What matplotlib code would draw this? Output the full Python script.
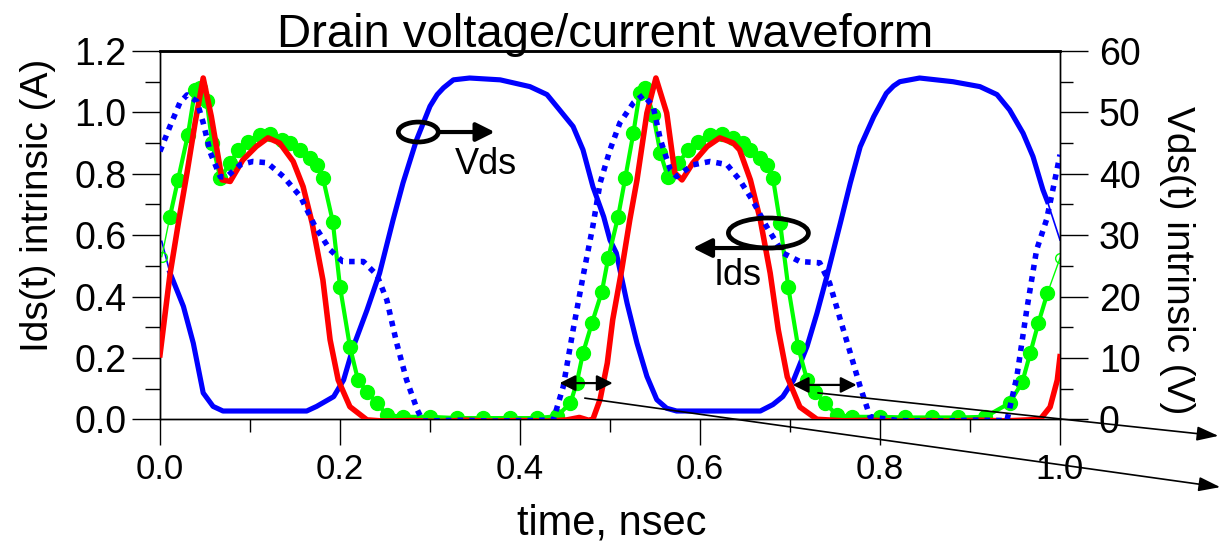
import matplotlib
matplotlib.use('Agg')
import matplotlib.pyplot as plt
from matplotlib.patches import Ellipse
from matplotlib.ticker import MultipleLocator

plt.rcParams['font.family'] = ['Liberation Sans', 'DejaVu Sans']

# ---------------- data ----------------
# Vds(t) intrinsic (V), right axis
vds_t = [0.011, 0.026, 0.037, 0.048, 0.059, 0.070, 0.163, 0.174, 0.193, 0.204, 0.215, 0.230,
         0.244, 0.259, 0.270, 0.285, 0.300, 0.308, 0.315, 0.326, 0.344, 0.378, 0.411, 0.430, 0.444,
         0.459, 0.470, 0.481, 0.493, 0.500, 0.507, 0.519, 0.530, 0.541, 0.552, 0.563, 0.574,
         0.667, 0.681, 0.692, 0.704, 0.719, 0.730, 0.741, 0.756, 0.767, 0.778, 0.793, 0.807,
         0.815, 0.822, 0.844, 0.881, 0.911, 0.930, 0.944, 0.959, 0.970, 0.981, 0.986]
vds_v = [23.9, 18.4, 12.4, 4.3, 2.1, 1.35, 1.35, 2.1, 3.7, 6.4, 11.9, 17.8,
         23.8, 32.5, 38.5, 45.5, 51.0, 52.9, 54.0, 55.3, 55.6, 55.3, 54.2, 52.9, 50.4,
         47.7, 43.9, 37.9, 33.0, 29.2, 27.1, 18.9, 12.4, 7.0, 3.2, 1.8, 1.35,
         1.35, 2.4, 3.7, 6.4, 11.9, 17.3, 23.3, 32.0, 38.5, 44.4, 49.3, 53.1,
         54.3, 55.0, 55.6, 55.0, 54.2, 52.9, 50.4, 46.6, 42.8, 37.4, 35.5]
vds_edge_l_t = [0.002, 0.011]
vds_edge_l_v = [29.0, 23.9]
vds_edge_r_t = [0.986, 1.0]
vds_edge_r_v = [35.5, 29.2]

# blue dotted current (A)
ib_t = [0.0, 0.011, 0.022, 0.030, 0.041, 0.048, 0.056, 0.067, 0.074, 0.089, 0.103, 0.119,
        0.137, 0.156, 0.172, 0.189, 0.203, 0.226, 0.241, 0.252, 0.263, 0.274, 0.286, 0.292,
        0.33, 0.37, 0.41, 0.437, 0.448, 0.459, 0.470, 0.481, 0.489, 0.500, 0.511, 0.526,
        0.537, 0.548, 0.556, 0.567, 0.574, 0.592, 0.611, 0.630, 0.644, 0.659, 0.674, 0.692,
        0.711, 0.733, 0.744, 0.756, 0.767, 0.778, 0.789, 0.82, 0.86, 0.90, 0.941, 0.952,
        0.963, 0.974, 0.985, 0.992, 1.0]
ib_a = [0.873, 0.954, 1.031, 1.057, 1.036, 0.966, 0.868, 0.79, 0.79, 0.829, 0.84, 0.836,
        0.791, 0.726, 0.63, 0.552, 0.514, 0.514, 0.47, 0.389, 0.248, 0.128, 0.03, -0.006,
        -0.003, -0.006, -0.004, -0.002, 0.106, 0.291, 0.465, 0.63, 0.77, 0.878, 0.966, 1.031,
        1.057, 1.019, 0.911, 0.813, 0.791, 0.829, 0.84, 0.83, 0.78, 0.71, 0.628, 0.542,
        0.514, 0.51, 0.444, 0.324, 0.216, 0.106, 0.008, -0.004, -0.006, -0.003, -0.004, 0.138,
        0.356, 0.552, 0.65, 0.747, 0.862]

# green current with markers (A)
ig_t = [0.011, 0.020, 0.031, 0.039, 0.044, 0.052, 0.058, 0.067, 0.078, 0.087, 0.098, 0.111,
        0.122, 0.136, 0.144, 0.156, 0.167, 0.174, 0.181, 0.192, 0.200, 0.211, 0.220, 0.230,
        0.241, 0.252, 0.270, 0.300, 0.330, 0.359, 0.389, 0.419, 0.441, 0.456, 0.463, 0.470,
        0.480, 0.491, 0.498, 0.509, 0.517, 0.526, 0.533, 0.539, 0.548, 0.556, 0.564, 0.576,
        0.587, 0.598, 0.611, 0.624, 0.637, 0.648, 0.656, 0.667, 0.674, 0.681, 0.689, 0.698,
        0.709, 0.719, 0.728, 0.739, 0.752, 0.769, 0.800, 0.828, 0.858, 0.887, 0.917, 0.944,
        0.958, 0.967, 0.976, 0.986]
ig_a = [0.66, 0.78, 0.927, 1.074, 1.08, 1.036, 0.90, 0.787, 0.835, 0.878, 0.905, 0.927,
        0.93, 0.911, 0.9, 0.878, 0.851, 0.829, 0.787, 0.644, 0.432, 0.237, 0.128, 0.09,
        0.053, 0.014, 0.008, 0.008, 0.004, 0.004, 0.004, 0.004, 0.01, 0.053, 0.118, 0.216,
        0.314, 0.416, 0.525, 0.66, 0.787, 0.933, 1.064, 1.08, 0.992, 0.868, 0.79, 0.835,
        0.878, 0.904, 0.927, 0.93, 0.917, 0.9, 0.878, 0.851, 0.829, 0.787, 0.64, 0.432,
        0.236, 0.128, 0.09, 0.053, 0.014, 0.008, 0.008, 0.006, 0.006, 0.006, 0.008, 0.053,
        0.12, 0.216, 0.314, 0.411]
ig_edge_l_t = [0.002, 0.011]
ig_edge_l_a = [0.53, 0.66]
ig_edge_r_t = [0.986, 1.0]
ig_edge_r_a = [0.411, 0.525]

# red current (A)
ir_t = [0.0, 0.011, 0.021, 0.030, 0.039, 0.048, 0.057, 0.069, 0.078, 0.092, 0.107, 0.120,
        0.133, 0.148, 0.159, 0.169, 0.181, 0.189, 0.198, 0.211, 0.230, 0.25, 0.28, 0.31,
        0.34, 0.37, 0.40, 0.43, 0.452, 0.466, 0.476, 0.481, 0.489, 0.497, 0.503, 0.513,
        0.522, 0.530, 0.541, 0.551, 0.563, 0.572, 0.580, 0.592, 0.608, 0.622, 0.637, 0.644,
        0.656, 0.667, 0.678, 0.687, 0.697, 0.711, 0.730, 0.76, 0.79, 0.82, 0.85, 0.88,
        0.91, 0.94, 0.965, 0.978, 0.989, 0.997, 1.0]
ir_a = [0.21, 0.47, 0.65, 0.803, 0.966, 1.112, 0.987, 0.78, 0.775, 0.845, 0.889, 0.917,
        0.9, 0.84, 0.758, 0.64, 0.454, 0.259, 0.128, 0.041, -0.002, -0.006, -0.004, -0.007,
        -0.003, -0.006, -0.004, -0.006, -0.002, 0.006, -0.003, 0.0, 0.065, 0.183, 0.324, 0.487,
        0.65, 0.78, 0.998, 1.112, 0.998, 0.803, 0.78, 0.835, 0.889, 0.917, 0.9, 0.878,
        0.78, 0.65, 0.476, 0.291, 0.138, 0.04, 0.0, -0.005, -0.003, -0.006, -0.004, -0.006,
        -0.003, -0.005, -0.002, 0.0, 0.04, 0.128, 0.204]

x_ticks = [0.0, 0.2, 0.4, 0.6, 0.8, 1.0]
y_left_ticks = [0.0, 0.2, 0.4, 0.6, 0.8, 1.0, 1.2]
y_right_ticks = [0, 10, 20, 30, 40, 50, 60]

BLUE = '#0000FF'
GREEN = '#00FF00'
RED = '#FF0000'

# ---------------- figure ----------------
fig = plt.figure(figsize=(12.24, 5.49), dpi=100)
ax = fig.add_axes([160/1224, 129.7/549, 900/1224, 368.3/549])
ax2 = ax.twinx()
ax.set_zorder(ax2.get_zorder() + 1)
ax.patch.set_visible(False)

# Vds on right axis (drawn behind)
ax2.plot(vds_t, vds_v, color=BLUE, lw=3.7, solid_joinstyle='round')
ax2.plot(vds_edge_l_t, vds_edge_l_v, color=BLUE, lw=1.2)
ax2.plot(vds_edge_r_t, vds_edge_r_v, color=BLUE, lw=1.2)

# currents on left axis
ax.plot(ig_t, ig_a, color=GREEN, lw=3.0, marker='o', ms=10, mec=GREEN, mfc=GREEN, zorder=2)
ax.plot(ig_edge_l_t, ig_edge_l_a, color=GREEN, lw=1.0, marker='o', ms=7, mfc='none', mec=GREEN, mew=1.0, zorder=2)
ax.plot(ig_edge_r_t, ig_edge_r_a, color=GREEN, lw=1.0, marker='o', ms=7, mfc='none', mec=GREEN, mew=1.0, zorder=2)
ax.plot(ir_t, ir_a, color=RED, lw=4.0, solid_joinstyle='round', zorder=3)
ax.plot(ib_t, ib_a, color=BLUE, lw=4.0, dashes=(1.0, 1.1), dash_capstyle='butt', zorder=4)

# axes limits and ticks
ax.set_xlim(0, 1.0)
ax.set_ylim(0, 1.2)
ax2.set_ylim(0, 60)
ax.set_xticks(x_ticks)
ax.set_xticklabels([f'{v:.1f}' for v in x_ticks])
ax.set_yticks(y_left_ticks)
ax.set_yticklabels([f'{v:.1f}' for v in y_left_ticks])
ax2.set_yticks(y_right_ticks)
ax2.set_yticklabels([str(v) for v in y_right_ticks])
ax.xaxis.set_minor_locator(MultipleLocator(0.1))
ax.yaxis.set_minor_locator(MultipleLocator(0.1))
ax2.yaxis.set_minor_locator(MultipleLocator(5))

ax.tick_params(axis='x', which='major', direction='out', length=19, width=1.0, pad=5, labelsize=25)
ax.tick_params(axis='x', which='minor', direction='out', length=9, width=1.0)
ax.tick_params(axis='y', which='major', direction='out', length=20, width=1.0, pad=4, labelsize=27)
ax.tick_params(axis='y', which='minor', direction='out', length=11, width=1.0)
ax2.tick_params(axis='y', which='major', direction='out', length=20, width=1.0, pad=8, labelsize=27)
ax2.tick_params(axis='y', which='minor', direction='out', length=9, width=1.0)

for a in (ax, ax2):
    for s in ('left', 'right', 'bottom'):
        a.spines[s].set_linewidth(1.0)
    a.spines['top'].set_linewidth(1.8)

# labels
fig.text(605/1224, 1 - 47/549, 'Drain voltage/current waveform', ha='center', va='baseline', fontsize=34)
fig.text(612/1224, 1 - 535/549, 'time, nsec', ha='center', va='baseline', fontsize=30)
fig.text(38/1224, 1 - 205/549, 'Ids(t) intrinsic (A)', ha='center', va='center', rotation=90, fontsize=28)
fig.text(1177/1224, 1 - 260/549, 'Vds(t) intrinsic (V)', ha='center', va='center', rotation=270, fontsize=28)

# annotations
ax.add_patch(Ellipse((0.287, 0.936), 0.0444, 0.065, fill=False, ec='black', lw=3.4, zorder=6))
ax.annotate('', xy=(0.372, 0.936), xytext=(0.309, 0.936),
            arrowprops=dict(arrowstyle='-|>', color='black', lw=3.0, mutation_scale=28, shrinkA=0, shrinkB=0), zorder=6)
ax.text(0.362, 0.829, 'Vds', ha='center', va='center', fontsize=26, zorder=6)

ax.add_patch(Ellipse((0.676, 0.607), 0.0889, 0.0978, fill=False, ec='black', lw=3.4, zorder=6))
ax.annotate('', xy=(0.592, 0.558), xytext=(0.692, 0.558),
            arrowprops=dict(arrowstyle='-|>', color='black', lw=3.0, mutation_scale=28, shrinkA=0, shrinkB=0), zorder=6)
ax.text(0.642, 0.47, 'Ids', ha='center', va='center', fontsize=26, zorder=6)

for (x0, x1, yy) in [(0.444, 0.503, 0.118), (0.703, 0.774, 0.112)]:
    ax.annotate('', xy=(x1, yy), xytext=(x0, yy),
                arrowprops=dict(arrowstyle='<|-|>', color='black', lw=1.6, mutation_scale=24, shrinkA=0, shrinkB=0), zorder=6)

for (x0, y0, x1, y1) in [(0.472, 0.069, 1.178, -0.221), (0.731, 0.086, 1.176, -0.054)]:
    ax.annotate('', xy=(x1, y1), xytext=(x0, y0), annotation_clip=False,
                arrowprops=dict(arrowstyle='-|>,head_length=0.6,head_width=0.2', color='black', lw=1.2,
                                mutation_scale=22, shrinkA=0, shrinkB=0), zorder=6)

fig.savefig('out.png', dpi=100)
